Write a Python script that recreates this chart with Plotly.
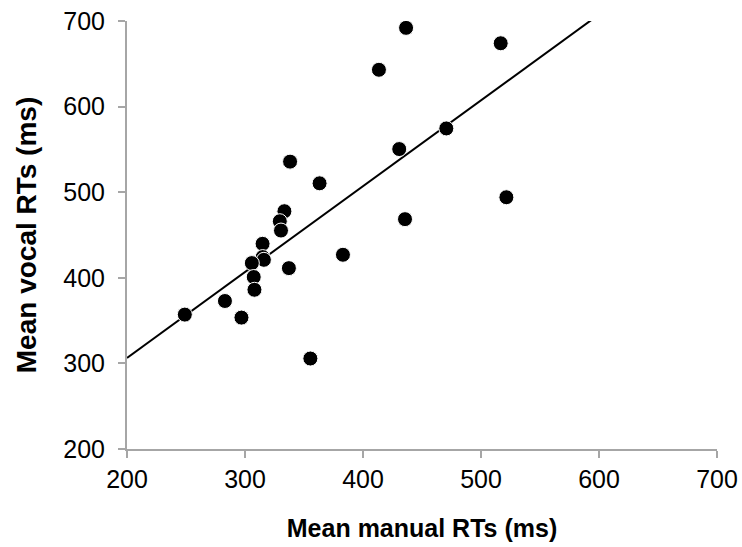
import numpy as np
import plotly.graph_objects as go

manual_rt = [436.5, 516.7, 413.5, 470.6, 430.7, 338.2, 363.2, 521.5, 435.6, 333.4, 329.5, 330.5,
             314.9, 315.0, 316.0, 305.8, 307.4, 308.0, 337.2, 383.0, 283.0, 249.0, 297.0, 355.4]
vocal_rt = [692.0, 674.0, 643.0, 574.5, 550.4, 535.7, 510.4, 494.1, 468.5, 477.8, 466.1, 455.2,
            439.7, 424.2, 421.0, 417.2, 400.9, 386.0, 411.3, 426.9, 372.9, 357.0, 353.5, 305.7]
tick_vals = [200, 300, 400, 500, 600, 700]

slope, intercept = np.polyfit(manual_rt, vocal_rt, 1)
line_x = np.array([200.0, 700.0])
line_y = slope * line_x + intercept

fig = go.Figure()
fig.add_trace(go.Scatter(x=line_x, y=line_y, mode="lines",
                         line=dict(color="black", width=2), hoverinfo="skip"))
fig.add_trace(go.Scatter(x=manual_rt, y=vocal_rt, mode="markers",
                         marker=dict(color="black", size=15, line=dict(color="white", width=1))))

font = "Liberation Sans, Arial, sans-serif"
fig.update_layout(
    width=742, height=547,
    margin=dict(l=127, r=25, t=21, b=98),
    paper_bgcolor="white", plot_bgcolor="white",
    showlegend=False,
    font=dict(family=font, size=25, color="black"),
)
fig.update_xaxes(range=[200, 700], tickvals=tick_vals, showgrid=False, zeroline=False,
                 automargin=False,
                 showline=True, linecolor="#a6a6a6", linewidth=2,
                 ticks="outside", ticklen=7, tickcolor="#a6a6a6", tickwidth=2,
                 tickfont=dict(size=25), ticklabelstandoff=0,
                 title=dict(text="<b>Mean manual RTs (ms)</b>", font=dict(size=25), standoff=27))
fig.update_yaxes(range=[200, 700], tickvals=tick_vals, showgrid=False, zeroline=False,
                 automargin=False,
                 showline=True, linecolor="#a6a6a6", linewidth=2,
                 ticks="outside", ticklen=7, tickcolor="#a6a6a6", tickwidth=2,
                 tickfont=dict(size=25), ticklabelstandoff=8,
                 title=dict(text="<b>Mean vocal RTs (ms)</b>", font=dict(size=28), standoff=18))

fig.write_html("out.html")
